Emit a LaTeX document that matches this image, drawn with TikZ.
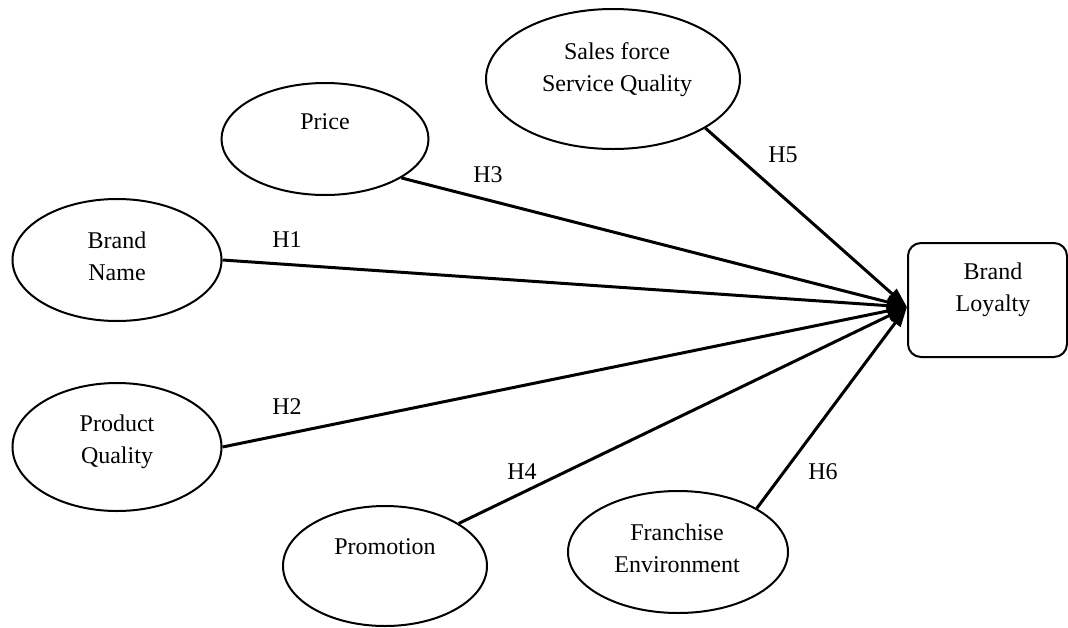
\documentclass[tikz,border=0pt]{standalone}
\usepackage{fontspec}
\setmainfont{Liberation Serif}
\usetikzlibrary{shapes.geometric,arrows.meta}
\begin{document}
\begin{tikzpicture}[x=1pt,y=-1pt,
  ell/.style={draw, line width=2pt, ellipse, inner sep=0pt},
  txt/.style={align=center, font=\fontsize{24}{32}\selectfont, inner sep=0pt},
  conn/.style={line width=3pt, -{Triangle[length=20pt,width=13pt]}},
  lbl/.style={font=\fontsize{24}{28}\selectfont, inner sep=0pt}]
\useasboundingbox[fill=white] (0,0) rectangle (1068,627);
% ellipses
\node[ell, minimum width=254pt, minimum height=140pt] (sf) at (613,79) {};
\node[ell, minimum width=207pt, minimum height=112pt] (price) at (325,139) {};
\node[ell, minimum width=209pt, minimum height=122pt] (bn) at (117,260) {};
\node[ell, minimum width=209pt, minimum height=128pt] (pq) at (117,447) {};
\node[ell, minimum width=204pt, minimum height=120pt] (promo) at (385,566) {};
\node[ell, minimum width=220pt, minimum height=122pt] (fe) at (678,552) {};
\node[draw, line width=2pt, rounded corners=13pt, minimum width=159pt, minimum height=114pt, inner sep=0pt] (bl) at (987.5,300) {};
% texts
\node[txt] (sft) at (617,70) {Sales force\\Service Quality};
\node[txt] (pricet) at (325,122) {Price};
\node[txt] (bnt) at (117,256) {Brand\\Name};
\node[txt] (pqt) at (117,442) {Product\\Quality};
\node[txt] (promot) at (385,547) {Promotion};
\node[txt] (fet) at (677,548) {Franchise\\Environment};
\node[txt] (blt) at (993,290) {Brand\\Loyalty};
% connectors
\coordinate (tip) at (907,307);
\draw[conn] (sf.-28) -- (tip);
\draw[conn] (price.-27.5) -- (tip);
\draw[conn] (bn.east) -- (tip);
\draw[conn] (pq.east) -- (tip);
\draw[conn] (promo.30.5) -- (tip);
\draw[conn] (fe.29) -- (tip);
% labels
\node[lbl] (h1) at (287,240) {H1};
\node[lbl] (h2) at (287,407) {H2};
\node[lbl] (h3) at (488,175) {H3};
\node[lbl] (h4) at (522,472) {H4};
\node[lbl] (h5) at (783,155) {H5};
\node[lbl] (h6) at (823,472) {H6};
\end{tikzpicture}
\end{document}
